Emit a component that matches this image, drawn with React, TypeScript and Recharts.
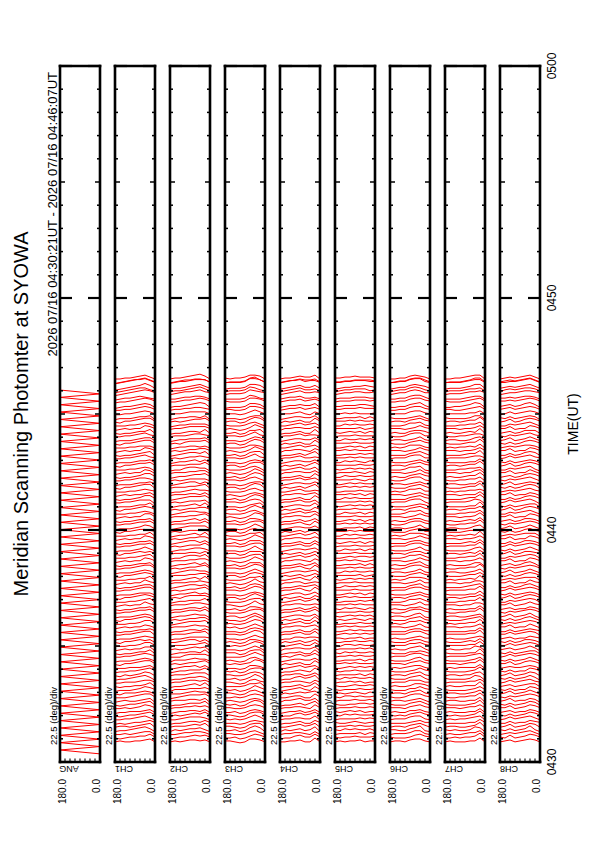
import React from 'react';
import { LineChart, Line, XAxis, YAxis } from 'recharts';

// laid out as a landscape sheet, then turned a quarter so it sits on the portrait page
const W = 842;
const H = 595;
const PLOT_L = 80;
const PLOT_R = 776;
const PANEL_H = 40;
const PANEL_TOP = [60, 115, 170, 225, 280, 335, 390, 445, 500];
const FONT = '"Liberation Sans", Arial, Helvetica, sans-serif';

const panelNames = ['ANG', 'CH1', 'CH2', 'CH3', 'CH4', 'CH5', 'CH6', 'CH7', 'CH8'];

// seconds after 04:30 UT
const minuteTicks = [0, 60, 120, 180, 240, 300, 360, 420, 480, 540, 600, 660, 720, 780, 840, 900, 960, 1020,
  1080, 1140, 1200, 1260, 1320, 1380, 1440, 1500, 1560, 1620, 1680, 1740, 1800];
const labelTicks = [0, 600, 1200, 1800];
const labelText = ['0430', '0440', '0450', '0500'];
const angleTicks = [0, 22.5, 45, 67.5, 90, 112.5, 135, 157.5, 180];
const scanAngles = [0, 22.5, 45, 67.5, 90, 112.5, 135, 157.5, 180];

// scan start times, 04:30:21 .. 04:46:02
const scanTimes = [
  21, 31, 40, 50, 59, 69, 78, 88, 97, 107,
  116, 126, 135, 145, 154, 164, 173, 183, 192, 202,
  211, 221, 230, 240, 249, 259, 268, 278, 287, 297,
  306, 316, 325, 335, 344, 354, 363, 373, 382, 392,
  401, 411, 420, 430, 439, 449, 458, 468, 477, 487,
  496, 506, 515, 525, 534, 544, 553, 563, 572, 582,
  591, 601, 610, 620, 629, 639, 648, 658, 667, 677,
  686, 696, 705, 715, 724, 734, 743, 753, 762, 772,
  781, 791, 800, 810, 819, 829, 838, 848, 857, 867,
  876, 886, 895, 905, 914, 924, 933, 943, 952, 962,
];

// mirror angle at the end of each sweep
const angTurn = [
  0, 180, 0, 180, 0, 180, 0, 180, 0, 180,
  0, 180, 0, 180, 0, 180, 0, 180, 0, 180,
  0, 180, 0, 180, 0, 180, 0, 180, 0, 180,
  0, 180, 0, 180, 0, 180, 0, 180, 0, 180,
  0, 180, 0, 180, 0, 180, 0, 180, 0, 180,
  0, 180, 0, 180, 0, 180, 0, 180, 0, 180,
  0, 180, 0, 180, 0, 180, 0, 180, 0, 180,
  0, 180, 0, 180, 0, 180, 0, 180, 0, 180,
  0, 180, 0, 180, 0, 180, 0, 180, 0, 180,
  0, 180, 0, 180, 0, 180, 0, 180, 0, 180,
];

const SEC_PER_STEP = 2.5; // one intensity step, drawn along the time axis
const CH_ZERO = 26;

// one group per scan, one digit per 22.5 deg from 0 to 180
const ch1 = `
254332232 364433212 255432322 146543221 265432332 354332121 246543322 365433212 254333221 356432322
265433212 154322321 366543222 245433312 356432221 264332212 355433322 146543221 256432312 365433221
254333222 366543312 245432221 356543322 264432212 155332321 366433222 254543312 345432221 266543322
354432212 245332321 366433222 256543312 145432221 365543322 254432212 346332321 265433222 356543312
244432221 366543322 255432212 346332321 264433222 356543312 245432221 366543322 154432212 356332321
265433222 354543312 246432221 365543322 254432212 356332321 264433222 345543312 256432221 365543322
254432212 366332321 245433222 356543312 264432221 155543322 366432212 254332321 345433222 266543312
354432221 245543322 366432212 256332321 145433222 365543312 254432221 346543322 265432212 356332321
244433222 366543312 255432221 346543322 264432212 356332321 245433222 366543312 154432221 356543322
467654433 256543321 578765443 345654432 689876543 457765432 368654321 579887654 246543210 135432211`;

const ch2 = `
243443232 354543321 245544322 135443231 264543332 353443221 245554322 364543231 253443321 354544332
264443221 153443332 365554321 244543222 354443331 263543221 354554332 145443221 255543332 364443321
253544321 365443232 244543331 355554222 263443321 154543232 365443331 253554322 344443221 265543332
353443221 244543332 365554321 255443232 144543321 364554332 253443221 345543332 264443321 355554232
243543321 365443232 254554321 345443332 263543221 355443332 244554321 365443232 153543321 355443332
264554221 353443332 245543321 364443232 253554321 355443232 263543321 344443232 255554321 364443332
253543221 365443332 244554321 355443232 263543321 154443232 365554321 253443332 344543221 265443332
353554321 244443232 365543321 255443332 144554221 364443332 253543321 345443232 264554321 355443232
243443321 365554232 254443321 345543332 263443221 355554332 244443321 365543232 153443321 355554332
456655443 267654332 578766544 356655433 679877654 468765443 357654332 588876654 245544321 146543221`;

const ch3 = `
245521233 356421322 246532233 157521322 266521233 345421222 257532323 366521233 245421322 356532233
267521323 145421232 356532322 246521233 357421323 265532222 346521233 157421322 256532233 366521323
245521222 367432323 246521232 357532222 266521333 146421222 367532323 245521232 346421223 267532333
356521222 246421323 367532232 257521223 146421332 366532223 245521322 347421233 266532223 357521332
245421222 367532333 256521322 347421232 265532223 356521332 246421222 367532333 155521322 357421232
266532223 355521332 247421222 366532333 255521322 357421232 265532223 346521332 257421222 366532333
245521322 367421232 246532223 357521332 265421222 156532333 367521322 245421232 346532223 267521332
355421222 246532333 367521322 257421232 146532223 366521332 245421222 347532333 266521322 357421232
245532223 367521332 256421222 347532333 265521322 357421232 246532223 367521332 155421222 357532333
467743344 256632221 578854445 346743333 678965554 457854443 367743332 589965555 247632221 145532212`;

const ch4 = `
262243322 363354221 252344332 163243231 264354322 352243221 263344332 364354221 253243321 362344332
264243221 153354331 362244322 254343231 362354321 263243221 352344332 164354221 253244331 362343221
254354322 362243231 253344321 364354232 262243321 153344331 363354322 253243231 344344221 263354332
352243221 254344331 363354322 262243231 153344321 364354332 253243221 343344331 264354322 352243231
253244321 362354332 254343221 343244331 262354322 353243231 254344321 362354332 153243221 352344331
264354322 353243231 254344321 363354332 252243221 353344331 264354322 344243231 253344321 362354332
253243221 363344331 254354322 352243231 263344321 153354332 362243221 254344331 343354322 264243231
353344321 254354332 362243221 253344331 153354322 364243231 253344321 343354332 264243221 352344331
254354322 362243231 253344321 344354332 262243221 353344331 254354322 362243231 153344321 352354332
465465543 264454432 576576654 354465543 676687654 465576543 364465432 577687765 254454321 153343221`;

const ch5 = `
332433232 433343323 342433332 243343423 433434332 332343223 343433332 433343423 332434323 343343332
434433223 243343332 433434423 342343232 433433323 343343223 332434332 243343423 342433332 433343323
343434322 433343433 342433322 433434332 343343423 243433332 433434423 343343322 332433233 434343432
333434322 343343433 433433322 342343232 243434323 433433332 342343423 333434333 343433322 433343433
342434322 433343333 343433422 333343332 343434323 432433333 343343422 433434333 242433322 432343433
434434322 333343333 342433422 433343332 342434323 433433333 343343422 333434333 342433322 434343433
342434322 433343333 342433422 433343332 343434323 243433333 433343422 342434333 333433322 434343433
333434322 342343333 433433422 342343332 243434323 433433333 342343422 333434333 343433322 433343433
342434322 433343333 343433422 333343332 342434323 432433333 343343422 433434333 242433322 433343433
555655544 345544433 656665554 445554443 766776654 546665543 456554432 667776655 344443322 233343322`;

const ch6 = `
235542332 346532223 236643332 127542233 246542332 335432222 236653332 346542323 235442232 346542333
246542223 135432332 346653223 236542332 346442223 245532232 335553332 136542223 236542332 346432223
235543232 346542333 236532223 346653332 245442223 136542232 346553333 235542223 335432232 246653333
335542222 236432333 346553232 236542223 126532332 346653223 235442232 336432333 246553222 346542332
235432223 346653332 236542222 336432333 245553232 346542223 236432332 346653223 136542232 346432333
246553222 335542332 236432223 346653332 235542222 346432333 245553232 336542223 236432332 346653223
235542232 346432333 236553222 346542332 245432223 136653332 346542222 235432333 336553232 246542223
335432332 236653223 346542232 236432333 126553222 346542332 235432223 336653332 246542222 346432333
235553232 346542223 236432332 336653223 245542232 346432333 236553222 346542332 135432223 346653332
457764433 247653322 568875544 357764433 668986654 457875543 356764432 569986655 246653321 134542211`;

const ch7 = `
263322232 374332322 264432232 156322323 274322332 363322222 265433232 374322323 263322232 364432333
274322223 163322332 374433223 264322332 364322223 273332232 364433332 156322223 265332332 374322223
263333232 374432333 264322223 365433332 273322223 156332232 374433333 263432223 354322232 274433333
363322222 264332333 374433232 265432223 154322332 374433223 263322232 355332333 274433222 364432332
263322223 374433332 265432222 355332333 273433232 364432223 264322332 374433223 155322232 364332333
274433222 363432332 265322223 374433332 263432222 364332333 273433232 354432223 265322332 374433223
263432232 374332333 264433222 364432332 273322223 156433332 374432222 263332333 354433232 274432223
363322332 264433223 374432232 265332333 154433222 374432332 263322223 355433332 274432222 364332333
263433232 374432223 265322332 355433223 273432232 364332333 264433222 374432332 155322223 364433332
476543344 267543322 587654445 366543333 687765554 476654443 377543332 588765555 266432221 155432211`;

const ch8 = `
245432432 356432523 246543432 137432423 256432532 345332422 246543532 356432423 245332432 356432533
256432423 145332532 356543423 246432532 356332423 255432432 346543532 146432423 256432532 356332423
245433432 356532533 246432423 356543532 255432423 146432432 356543533 245532423 345332432 256543533
345432422 246332533 356543432 246532423 136432532 356543423 245332432 346432533 256543422 356532532
245432423 356543532 246532422 346332533 255543432 356532423 246432532 356543423 146532432 356332533
256543422 345532532 246432423 356543532 245532422 356332533 255543432 346532423 246432532 356543423
245532432 356332533 246543422 356532532 255432423 146543532 356532422 245332533 346543432 256532423
345432532 246543423 356532432 246332533 136543422 356532532 245432423 346543532 256532422 356332533
245543432 356532423 246432532 346543423 255532432 356332533 246543422 356532532 145432423 356543532
467654654 257643543 578765655 356654544 678876654 467765653 357654543 579876655 246543432 135432321`;

const chProfiles = [ch1, ch2, ch3, ch4, ch5, ch6, ch7, ch8];

type Row = { t: number; a: number | null };

function angRows(): Row[] {
  return scanTimes.map((t, i) => ({ t, a: angTurn[i] }));
}

function chRows(src: string): Row[] {
  const rows: Row[] = [];
  src.trim().split(/\s+/).forEach((prof, i) => {
    const t0 = scanTimes[i];
    for (let j = 0; j < scanAngles.length; j++) {
      rows.push({ t: t0 + CH_ZERO + Number(prof[j]) * SEC_PER_STEP, a: scanAngles[j] });
    }
    rows.push({ t: t0, a: null }); // break between scans
  });
  return rows;
}

const panelRows: Row[][] = [angRows(), ...chProfiles.map(chRows)];

function tickLen(v: number) {
  if (v % 600 === 0) return 12;
  if (v % 300 === 0) return 5;
  return 3;
}

function TimeTick(props: any) {
  const { x, y, payload, side, labels } = props;
  const v = payload.value;
  const len = tickLen(v);
  const dir = side === 'top' ? 1 : -1;
  const li = labelTicks.indexOf(v);
  return (
    <g>
      <line x1={x} x2={x} y1={y} y2={y + dir * len} stroke="#000" strokeWidth={len > 6 ? 2.2 : 1.5} />
      {labels && li >= 0 && (
        <text x={x} y={y + 16} textAnchor="middle" fontSize={12} fontFamily={FONT} fill="#000">
          {labelText[li]}
        </text>
      )}
    </g>
  );
}

function AngleTick(props: any) {
  const { x, y, payload, side, labels } = props;
  const v = payload.value;
  const dir = side === 'left' ? 1 : -1;
  return (
    <g>
      <line x1={x} x2={x + dir * 3.5} y1={y} y2={y} stroke="#000" strokeWidth={1.1} />
      {labels && (v === 180 || v === 0) && (
        <text x={x - 17} y={v === 180 ? y + 6 : y} textAnchor="end" fontSize={10} fontFamily={FONT} fill="#000">
          {v.toFixed(1)}
        </text>
      )}
    </g>
  );
}

const frame = { stroke: '#000', strokeWidth: 2.6, strokeLinecap: 'square' as const };

function Panel({ index }: { index: number }) {
  const top = PANEL_TOP[index];
  const last = index === PANEL_TOP.length - 1;
  return (
    <div style={{ position: 'absolute', left: 0, top: 0 }}>
      <LineChart
        width={W}
        height={H}
        data={panelRows[index]}
        margin={{ top, right: W - PLOT_R, bottom: H - top - PANEL_H, left: PLOT_L }}
      >
        <XAxis
          dataKey="t"
          type="number"
          domain={[0, 1800]}
          ticks={minuteTicks}
          interval={0}
          orientation="bottom"
          mirror
          tickLine={false}
          tickSize={0}
          tickMargin={0}
          axisLine={frame}
          tick={(p: any) => <TimeTick {...p} side="bottom" labels={last} />}
        />
        <XAxis
          xAxisId="top"
          dataKey="t"
          type="number"
          domain={[0, 1800]}
          ticks={minuteTicks}
          interval={0}
          orientation="top"
          mirror
          tickLine={false}
          tickSize={0}
          tickMargin={0}
          axisLine={frame}
          tick={(p: any) => <TimeTick {...p} side="top" labels={false} />}
        />
        <YAxis
          type="number"
          domain={[0, 180]}
          ticks={angleTicks}
          interval={0}
          orientation="left"
          mirror
          tickLine={false}
          tickSize={0}
          tickMargin={0}
          axisLine={frame}
          tick={(p: any) => <AngleTick {...p} side="left" labels />}
        />
        <YAxis
          yAxisId="right"
          type="number"
          domain={[0, 180]}
          ticks={angleTicks}
          interval={0}
          orientation="right"
          mirror
          tickLine={false}
          tickSize={0}
          tickMargin={0}
          axisLine={frame}
          tick={(p: any) => <AngleTick {...p} side="right" labels={false} />}
        />
        <Line
          dataKey="a"
          stroke="#ff0000"
          strokeWidth={1}
          dot={false}
          activeDot={false}
          connectNulls={false}
          isAnimationActive={false}
        />
      </LineChart>
    </div>
  );
}

export default function App() {
  return (
    <>
      <style>{'body{margin:0;overflow:hidden;background:#fff}'}</style>
      <div
        style={{
          position: 'absolute',
          left: 0,
          top: 0,
          width: W,
          height: H,
          transformOrigin: '0 0',
          transform: `translate(0px, ${W}px) rotate(-90deg)`,
          background: '#fff',
        }}
      >
        <svg width={W} height={H} style={{ position: 'absolute', left: 0, top: 0 }} fontFamily={FONT}>
          <text x={(PLOT_L + PLOT_R) / 2} y={28} textAnchor="middle" fontSize={20}>
            Meridian Scanning Photomter at SYOWA
          </text>
          <text x={770} y={57} textAnchor="end" fontSize={13}>
            2026 07/16 04:30:21UT - 2026 07/16 04:46:07UT
          </text>
          <text x={418} y={578} textAnchor="middle" fontSize={14}>
            TIME(UT)
          </text>
          {PANEL_TOP.map((top, i) => (
            <g key={panelNames[i]}>
              <text x={97} y={top - 3.5} fontSize={9.5}>
                22.5 (deg)/div
              </text>
              <text
                transform={`translate(73 ${top + 9}) rotate(-90)`}
                textAnchor="middle"
                dominantBaseline="central"
                fontSize={9}
              >
                {panelNames[i]}
              </text>
            </g>
          ))}
        </svg>
        {PANEL_TOP.map((_, i) => (
          <Panel key={panelNames[i]} index={i} />
        ))}
      </div>
    </>
  );
}
